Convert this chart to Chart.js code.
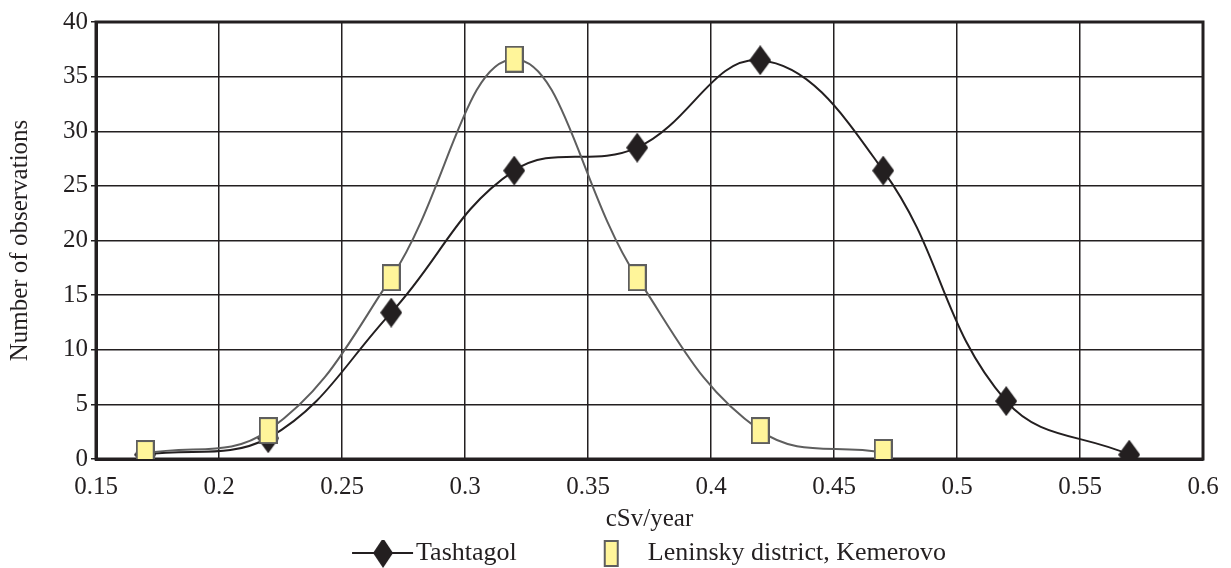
<!DOCTYPE html>
<html>
<head>
<meta charset="utf-8">
<script src="https://cdn.jsdelivr.net/npm/chart.js@4/dist/chart.umd.min.js"></script>
<style>
  html, body { margin: 0; padding: 0; background: #fff; }
  #wrap { width: 1231px; height: 568px; }
</style>
</head>
<body>
<div id="wrap"><canvas id="chart"></canvas></div>
<script>
// data
const xTickLabels = ['0.15', '0.2', '0.25', '0.3', '0.35', '0.4', '0.45', '0.5', '0.55', '0.6'];
const tashtagolX = [0.17, 0.22, 0.27, 0.32, 0.37, 0.42, 0.47, 0.52, 0.57];
const tashtagolY = [0.4, 1.9, 13.4, 26.4, 28.5, 36.5, 26.4, 5.3, 0.4];
const leninskyX = [0.17, 0.22, 0.27, 0.32, 0.37, 0.42, 0.47];
const leninskyY = [0.5, 2.6, 16.6, 36.6, 16.6, 2.6, 0.6];
const seriesNames = ['Tashtagol', 'Leninsky district, Kemerovo'];

const ink = '#231f20';
const grey = '#5e5e5e';
const yellow = '#fff59a';
const serif = "'Liberation Serif', 'DejaVu Serif', serif";

// marker images
function diamondImg(w, h) {
    const c = document.createElement('canvas');
    c.width = w; c.height = h;
    const g = c.getContext('2d');
    g.fillStyle = ink;
    g.beginPath();
    g.moveTo(w / 2, 0); g.lineTo(w, h / 2); g.lineTo(w / 2, h); g.lineTo(0, h / 2);
    g.closePath(); g.fill();
    return c;
}
function squareImg(w, h) {
    const c = document.createElement('canvas');
    c.width = w; c.height = h;
    const g = c.getContext('2d');
    g.fillStyle = yellow;
    g.fillRect(1, 1, w - 2, h - 2);
    g.strokeStyle = grey;
    g.lineWidth = 2;
    g.strokeRect(1, 1, w - 2, h - 2);
    return c;
}
// legend symbols (wider canvases so the symbol sits where it should)
function legendLine() {
    const c = document.createElement('canvas');
    c.width = 140; c.height = 32;
    const g = c.getContext('2d');
    g.strokeStyle = ink; g.lineWidth = 2;
    g.beginPath(); g.moveTo(78, 16); g.lineTo(139, 16); g.stroke();
    g.drawImage(diamondImg(20, 30), 99, 1);
    return c;
}
function legendSquare() {
    const c = document.createElement('canvas');
    c.width = 100; c.height = 32;
    const g = c.getContext('2d');
    g.drawImage(squareImg(15, 27), 78, 3);
    return c;
}

const toPts = (xs, ys) => xs.map((x, i) => ({ x: x, y: ys[i] }));

const framePlugin = {
    id: 'frame',
    beforeDatasetsDraw(chart) {
        const a = chart.chartArea, g = chart.ctx;
        g.save();
        g.strokeStyle = ink;
        g.lineWidth = 3;
        g.strokeRect(a.left, a.top, a.right - a.left, a.bottom - a.top);
        g.restore();
    }
};

new Chart(document.getElementById('chart'), {
    type: 'line',
    data: {
        datasets: [{
            label: seriesNames[0],
            data: toPts(tashtagolX, tashtagolY),
            borderColor: ink,
            borderWidth: 2,
            pointStyle: diamondImg(22, 30),
            tension: 0.4,
            order: 2
        }, {
            label: seriesNames[1],
            data: toPts(leninskyX, leninskyY),
            borderColor: grey,
            borderWidth: 2,
            pointStyle: squareImg(19, 27),
            tension: 0.4,
            order: 1
        }]
    },
    options: {
        responsive: true,
        maintainAspectRatio: false,
        animation: false,
        layout: { padding: { top: 22, right: 0, bottom: -8, left: 0 } },
        scales: {
            x: {
                type: 'linear',
                min: 0.15,
                max: 0.6,
                ticks: {
                    stepSize: 0.05,
                    color: ink,
                    padding: 7,
                    font: { family: serif, size: 25 },
                    callback: (v, i) => xTickLabels[i]
                },
                grid: { color: ink, lineWidth: 1.5, tickLength: 6, tickColor: 'rgba(0,0,0,0)' },
                border: { color: ink, width: 3 },
                title: {
                    display: true,
                    text: 'cSv/year',
                    color: ink,
                    font: { family: serif, size: 25 },
                    padding: { top: 4, bottom: 6 }
                },
                afterFit: s => { s.height = 81; }
            },
            y: {
                min: 0,
                max: 40,
                ticks: {
                    stepSize: 5,
                    color: ink,
                    padding: 3,
                    font: { family: serif, size: 25 }
                },
                grid: { color: ink, lineWidth: 1.5, tickLength: 5, tickColor: ink },
                border: { color: ink, width: 3 },
                title: {
                    display: true,
                    text: 'Number of observations',
                    color: ink,
                    font: { family: serif, size: 25 },
                    padding: 5
                },
                afterFit: s => { s.width = 96; }
            },
            y2: {
                position: 'right',
                display: true,
                grid: { display: false },
                ticks: { display: false },
                border: { display: false },
                afterFit: s => { s.width = 28; }
            }
        },
        plugins: {
            legend: {
                position: 'bottom',
                labels: {
                    usePointStyle: true,
                    pointStyleWidth: 118,
                    padding: 0,
                    color: ink,
                    font: { family: serif, size: 26 },
                    generateLabels: () => [
                        { text: seriesNames[0], pointStyle: legendLine(), fontColor: ink, lineWidth: 0, datasetIndex: 0 },
                        { text: seriesNames[1], pointStyle: legendSquare(), fontColor: ink, lineWidth: 0, datasetIndex: 1 }
                    ]
                }
            },
            tooltip: { enabled: false }
        }
    },
    plugins: [framePlugin]
});
</script>
</body>
</html>
